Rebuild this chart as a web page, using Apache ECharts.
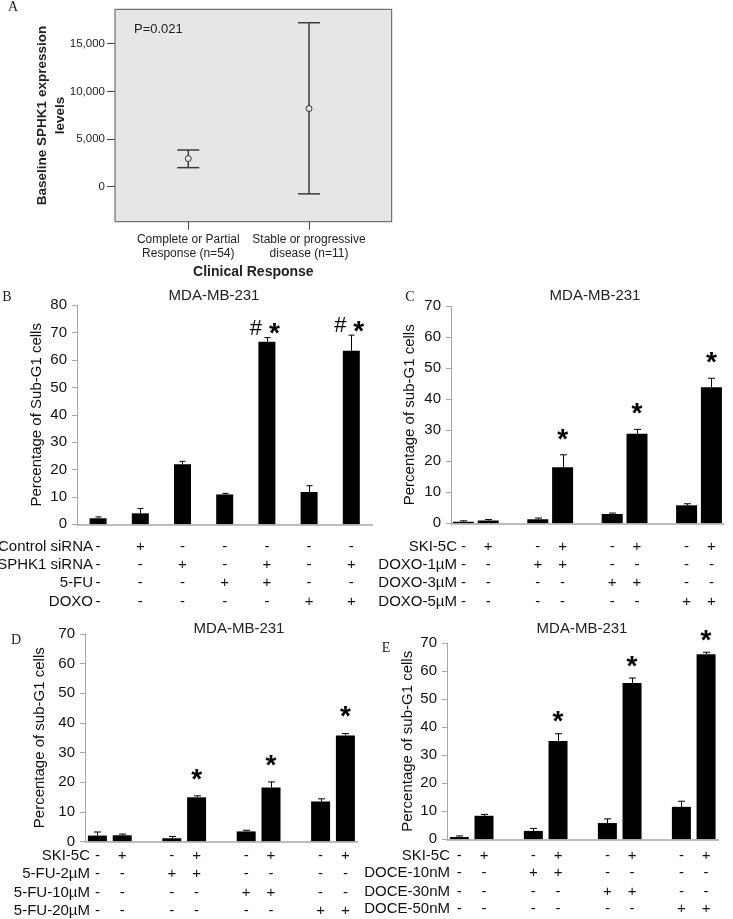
<!DOCTYPE html>
<html>
<head>
<meta charset="utf-8">
<script src="https://cdn.jsdelivr.net/npm/echarts@6/dist/echarts.min.js"></script>
<style>
  html, body { margin: 0; padding: 0; background: #fff; }
  #chart { width: 733px; height: 919px; }
</style>
</head>
<body>
<div id="chart"></div>
<script>
// ---- panel A: baseline SPHK1 expression by clinical response ----
const aGroups = ['Complete or Partial\nResponse (n=54)', 'Stable or progressive\ndisease (n=11)'];
const aMean = [2950, 8200];
const aLow = [2000, -750];
const aHigh = [3850, 17200];
const aTicks = [0, 5000, 10000, 15000];

// ---- panel B: siRNA + 5-FU / DOXO ----
const bVals = [2.2, 4.0, 21.9, 10.9, 66.7, 11.8, 63.4];
const bErr = [0.5, 1.8, 1.1, 0.4, 1.5, 2.3, 5.7];
const bMarks = ['', '', '', '', '#*', '', '#*'];
const bRowLabels = ['Control siRNA', 'SPHK1 siRNA', '5-FU', 'DOXO'];
const bRows = [
  ['-', '+', '-', '-', '-', '-', '-'],
  ['-', '-', '+', '-', '+', '-', '+'],
  ['-', '-', '-', '+', '+', '-', '-'],
  ['-', '-', '-', '-', '-', '+', '+']
];

// ---- panel C: SKI-5C + DOXO ----
const cVals = [0.5, 0.9, 1.3, 18.1, 3.0, 28.9, 5.8, 43.9];
const cErr = [0.3, 0.3, 0.4, 4.0, 0.3, 1.4, 0.5, 2.9];
const cMarks = ['', '', '', '*', '', '*', '', '*'];
const cRowLabels = ['SKI-5C', 'DOXO-1µM', 'DOXO-3µM', 'DOXO-5µM'];

// ---- panel D: SKI-5C + 5-FU ----
const dVals = [2.0, 2.1, 1.1, 14.9, 3.4, 18.2, 13.5, 35.8];
const dErr = [1.2, 0.4, 0.6, 0.5, 0.4, 1.9, 0.9, 0.6];
const dMarks = ['', '', '', '*', '', '*', '', '*'];
const dRowLabels = ['SKI-5C', '5-FU-2µM', '5-FU-10µM', '5-FU-20µM'];

// ---- panel E: SKI-5C + DOCE ----
const eVals = [0.8, 8.4, 3.0, 35.1, 5.8, 55.8, 11.6, 66.1];
const eErr = [0.4, 0.5, 0.9, 2.6, 1.5, 1.8, 2.0, 0.7];
const eMarks = ['', '', '', '*', '', '*', '', '*'];
const eRowLabels = ['SKI-5C', 'DOCE-10nM', 'DOCE-30nM', 'DOCE-50nM'];

// same +/- pattern for the three paired panels
const pairedRows = [
  ['-', '+', '-', '+', '-', '+', '-', '+'],
  ['-', '-', '+', '+', '-', '-', '-', '-'],
  ['-', '-', '-', '-', '+', '+', '-', '-'],
  ['-', '-', '-', '-', '-', '-', '+', '+']
];

const FONT = '"Liberation Sans", Arial, sans-serif';
const SERIF = '"Liberation Serif", "Times New Roman", serif';
const GRAY = '#a6a6a6';
const TXT = '#111';

const panels = [
  { vals: bVals, err: bErr, marks: bMarks, rowLabels: bRowLabels, rows: bRows, paired: false,
    max: 80, yName: 'Percentage of Sub-G1 cells',
    left: 77, top: 305.3, width: 295.4, height: 219, barWidth: 17, cap: 6, markGap: 9,
    rowY: [546.7, 565, 583.3, 601.7], nameGap: 32.5, rowNameGap: -16 },
  { vals: cVals, err: cErr, marks: cMarks, rowLabels: cRowLabels, rows: pairedRows, paired: true,
    max: 70, yName: 'Percentage of sub-G1 cells',
    left: 451, top: 306.3, width: 272.8, height: 217, barWidth: 21, cap: 7, markGap: 15,
    rowY: [546.7, 565, 583.3, 601.7], nameGap: 33.5, rowNameGap: -6 },
  { vals: dVals, err: dErr, marks: dMarks, rowLabels: dRowLabels, rows: pairedRows, paired: true,
    max: 70, yName: 'Percentage of sub-G1 cells',
    left: 85, top: 634, width: 272.8, height: 207.5, barWidth: 19, cap: 7, markGap: 16,
    rowY: [855.7, 874, 892.7, 911], nameGap: 37.5, rowNameGap: -5 },
  { vals: eVals, err: eErr, marks: eMarks, rowLabels: eRowLabels, rows: pairedRows, paired: true,
    max: 70, yName: 'Percentage of sub-G1 cells',
    left: 447, top: 643.3, width: 271.4, height: 196, barWidth: 19, cap: 7, markGap: 11,
    rowY: [855.7, 873.3, 891.7, 909.3], nameGap: 31.5, rowNameGap: -3 }
];

function errSeries(xi, yi, slots, vals, errs, marks, cap, gap) {
  return {
    type: 'custom',
    xAxisIndex: xi,
    yAxisIndex: yi,
    z: 4,
    data: vals.map((v, i) => [slots[i], v, v + errs[i]]),
    renderItem(params, api) {
      const top = api.coord([api.value(0), api.value(2)]);
      const base = api.coord([api.value(0), api.value(1)]);
      const x = Math.round(top[0]) + 0.5;
      const children = [
        { type: 'line', shape: { x1: x, y1: base[1], x2: x, y2: top[1] }, style: { stroke: '#000', lineWidth: 1 } },
        { type: 'line', shape: { x1: x - cap / 2, y1: top[1], x2: x + cap / 2, y2: top[1] }, style: { stroke: '#000', lineWidth: 1 } }
      ];
      const m = marks[params.dataIndex];
      if (m === '*') {
        children.push({ type: 'text', x: top[0], y: top[1] - gap,
          style: { text: '*', font: 'bold 28px ' + FONT, fill: '#000', align: 'center', verticalAlign: 'middle' } });
      } else if (m === '#*') {
        children.push({ type: 'text', x: top[0] - 11, y: top[1] - gap,
          style: { text: '#', font: '22px ' + FONT, fill: '#000', align: 'center', verticalAlign: 'middle' } });
        children.push({ type: 'text', x: top[0] + 7.5, y: top[1] - gap + 6,
          style: { text: '*', font: 'bold 28px ' + FONT, fill: '#000', align: 'center', verticalAlign: 'middle' } });
      }
      return { type: 'group', children };
    }
  };
}

const grid = [
  { left: 115, top: 9.3, width: 276.7, height: 212.4, show: true,
    backgroundColor: '#e6e6e6', borderColor: '#555', borderWidth: 1, outerBoundsMode: 'none' }
];
const xAxis = [{
  type: 'value', gridIndex: 0, min: -0.607, max: 1.685, position: 'bottom',
  splitLine: { show: false },
  axisLine: { show: false, onZero: false },
  axisTick: { show: true, customValues: [0, 1], length: 8, lineStyle: { color: '#444' } },
  axisLabel: { customValues: [0, 1], formatter: v => aGroups[Math.round(v)],
    fontFamily: FONT, fontSize: 12, lineHeight: 14, color: '#222', margin: 11 },
  name: 'Clinical Response', nameLocation: 'middle', nameGap: 43, nameMoveOverlap: false,
  nameTextStyle: { fontFamily: FONT, fontSize: 14, fontWeight: 'bold', color: '#222' }
}];
const yAxis = [{
  type: 'value', gridIndex: 0, min: -3671, max: 18608, position: 'left',
  splitLine: { show: false },
  axisLine: { show: false, onZero: false },
  axisTick: { show: true, customValues: aTicks, length: 8, lineStyle: { color: '#444' } },
  axisLabel: { customValues: aTicks, formatter: v => v.toLocaleString('en-US'),
    fontFamily: FONT, fontSize: 11.5, color: '#222', margin: 10 },
  name: 'Baseline SPHK1 expression\nlevels', nameLocation: 'middle', nameGap: 45, nameMoveOverlap: false,
  nameTextStyle: { fontFamily: FONT, fontSize: 13.5, fontWeight: 'bold', lineHeight: 18.7, color: '#222' }
}];
const series = [
  {
    type: 'custom', xAxisIndex: 0, yAxisIndex: 0, z: 3,
    data: aMean.map((m, i) => [i, aLow[i], aHigh[i]]),
    renderItem(params, api) {
      const lo = api.coord([api.value(0), api.value(1)]);
      const hi = api.coord([api.value(0), api.value(2)]);
      const st = { stroke: '#3a3a3a', lineWidth: 1.5 };
      return { type: 'group', children: [
        { type: 'line', shape: { x1: lo[0], y1: lo[1], x2: hi[0], y2: hi[1] }, style: st },
        { type: 'line', shape: { x1: lo[0] - 11, y1: lo[1], x2: lo[0] + 11, y2: lo[1] }, style: st },
        { type: 'line', shape: { x1: hi[0] - 11, y1: hi[1], x2: hi[0] + 11, y2: hi[1] }, style: st }
      ] };
    }
  },
  {
    type: 'scatter', xAxisIndex: 0, yAxisIndex: 0, z: 4,
    data: aMean.map((m, i) => [i, m]),
    symbol: 'circle', symbolSize: 6,
    itemStyle: { color: '#e6e6e6', borderColor: '#333', borderWidth: 1, opacity: 1 }
  }
];

panels.forEach((p, k) => {
  const g = k + 1;
  const n = p.vals.length;
  const slots = p.vals.map((_, i) => p.paired ? i + Math.floor(i / 2) : i);
  const nSlots = p.paired ? n + n / 2 - 1 : n;
  const ids = Array.from({ length: nSlots }, (_, i) => String(i));
  const barData = ids.map(() => '-');
  slots.forEach((s, i) => { barData[s] = p.vals[i]; });
  const bottom = p.top + p.height;

  grid.push({ left: p.left, top: p.top, width: p.width, height: p.height, outerBoundsMode: 'none' });

  const mainX = xAxis.length;
  xAxis.push({
    type: 'category', gridIndex: g, data: ids, position: 'bottom', z: 5,
    axisLine: { show: true, lineStyle: { color: GRAY, width: 1.5 } },
    axisTick: { show: false },
    axisLabel: { show: false }
  });
  p.rows.forEach((row, r) => {
    const syms = ids.map(() => '');
    slots.forEach((s, i) => { syms[s] = row[i]; });
    xAxis.push({
      type: 'category', gridIndex: g, data: ids, position: 'bottom',
      offset: p.rowY[r] - bottom,
      axisLine: { show: false }, axisTick: { show: false }, splitLine: { show: false },
      axisLabel: { interval: 0, margin: 0, verticalAlign: 'middle', formatter: (v, idx) => syms[idx],
        fontFamily: FONT, fontSize: 15, color: TXT },
      name: p.rowLabels[r], nameLocation: 'start', nameGap: p.rowNameGap, nameMoveOverlap: false,
      nameTextStyle: { fontFamily: FONT, fontSize: 15, color: TXT, align: 'right', verticalAlign: 'middle' }
    });
  });

  const yi = yAxis.length;
  yAxis.push({
    type: 'value', gridIndex: g, min: 0, max: p.max, interval: 10,
    splitLine: { show: false },
    axisLine: { show: true, lineStyle: { color: GRAY } },
    axisTick: { show: true, length: 5, lineStyle: { color: GRAY } },
    axisLabel: { fontFamily: FONT, fontSize: 15, color: TXT, margin: 10 },
    name: p.yName, nameLocation: 'middle', nameGap: p.nameGap, nameMoveOverlap: false,
    nameTextStyle: { fontFamily: FONT, fontSize: 15, color: TXT }
  });

  series.push({
    type: 'bar', xAxisIndex: mainX, yAxisIndex: yi, data: barData,
    barWidth: p.barWidth, itemStyle: { color: '#000' }, z: 2
  });
  series.push(errSeries(mainX, yi, slots, p.vals, p.err, p.marks, p.cap, p.markGap));
});

function label(text, x, y, font, align) {
  return { type: 'text', x, y, z: 10,
    style: { text, font, fill: '#222', align: align || 'center', verticalAlign: 'middle' } };
}

const graphic = [
  label('A', 13, 7, '14px ' + SERIF),
  label('B', 7, 297, '14px ' + SERIF),
  label('C', 410, 297, '14px ' + SERIF),
  label('D', 16, 640, '14px ' + SERIF),
  label('E', 386, 648, '14px ' + SERIF),
  label('P=0.021', 134, 29, '13px ' + FONT, 'left'),
  label('MDA-MB-231', 214, 296, '15px ' + FONT),
  label('MDA-MB-231', 595, 296, '15px ' + FONT),
  label('MDA-MB-231', 239, 629, '15px ' + FONT),
  label('MDA-MB-231', 582, 629, '15px ' + FONT)
];

const chart = echarts.init(document.getElementById('chart'), null, { renderer: 'canvas' });
chart.setOption({
  animation: false,
  backgroundColor: '#fff',
  textStyle: { fontFamily: FONT },
  grid, xAxis, yAxis, series, graphic
});
</script>
</body>
</html>
